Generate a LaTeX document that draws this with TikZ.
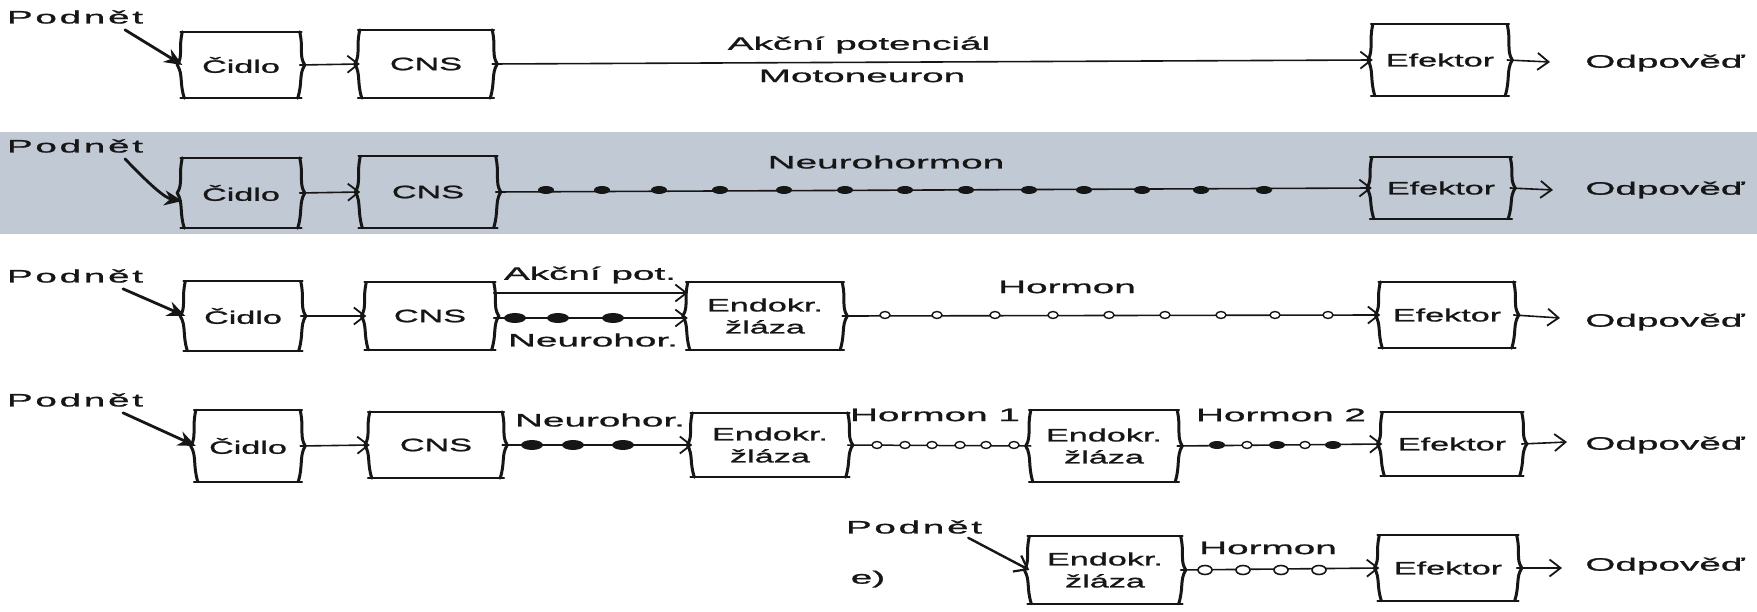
\documentclass[tikz,border=0pt]{standalone}
\usepackage{fontspec}
\setmainfont{Liberation Sans}
\newfontfamily\lblfont[FakeStretch=2.15,FakeBold=1.2]{Liberation Sans}
\newfontfamily\stimfont[FakeStretch=2.15,FakeBold=1.2,LetterSpace=15]{Liberation Sans}
\newfontfamily\boxfont[FakeStretch=1.9,FakeBold=1.2]{Liberation Sans}
\usetikzlibrary{calc,arrows.meta}
\definecolor{band}{RGB}{193,201,213}
\definecolor{ink}{RGB}{22,22,22}
\newcommand{\skbox}[1]{%
  \draw[edgeline] ($(#1.north west)+(-2,0)$) -- ($(#1.north east)+(2,0)$);
  \draw[edgeline] ($(#1.south west)+(-2,0)$) -- ($(#1.south east)+(2,0)$);
  \draw[sideline] (#1.north west) .. controls ($(#1.north west)+(-4,18)$) and ($(#1.west)+(1,-10)$) .. ($(#1.west)+(-5,0)$) .. controls ($(#1.west)+(1,10)$) and ($(#1.south west)+(-3,-16)$) .. ($(#1.south west)+(2,0)$);
  \draw[sideline] (#1.north east) .. controls ($(#1.north east)+(4,18)$) and ($(#1.east)+(-1,-10)$) .. ($(#1.east)+(5,0)$) .. controls ($(#1.east)+(-1,10)$) and ($(#1.south east)+(3,-16)$) .. ($(#1.south east)+(-2,0)$);
}
\newcommand{\blob}[2]{\fill[ink] (#1,#2) ellipse [x radius=8, y radius=4];}
\newcommand{\bigblob}[2]{\fill[ink] (#1,#2) ellipse [x radius=11, y radius=5];}
\newcommand{\ring}[2]{\draw[ink, line width=1.4pt, fill=white] (#1,#2) ellipse [x radius=5, y radius=3.5];}
\newcommand{\bigring}[2]{\draw[ink, line width=1.6pt, fill=white] (#1,#2) ellipse [x radius=7, y radius=4.5];}
\tikzset{
  lbl/.style={font=\lblfont\fontsize{18}{21}\selectfont, inner sep=0, text=ink},
  stimlbl/.style={font=\stimfont\fontsize{18}{21}\selectfont, inner sep=0, text=ink},
  bx/.style={font=\boxfont\fontsize{18}{22}\selectfont, inner sep=0, align=center, text=ink},
  edgeline/.style={draw=ink, line width=1.8pt},
  sideline/.style={draw=ink, line width=3pt},
  conn/.style={draw=ink, line width=1.6pt, -{Straight Barb[length=11pt,width=17pt,line width=1.8pt]}},
  plain/.style={draw=ink, line width=1.5pt},
  stim/.style={draw=ink, line width=2.8pt, -{Stealth[length=18pt,width=15pt]}},
  stimopen/.style={draw=ink, line width=2.4pt, -{Straight Barb[length=12pt,width=18pt,line width=2.2pt]}}
}
\begin{document}
\begin{tikzpicture}[x=1pt,y=-1pt,line cap=round]
\useasboundingbox (0,0) rectangle (1757,612);
\fill[band] (0,132) rectangle (1757,234);

% ---------- row 1
\node[stimlbl] (p1) at (75,17) {Podnět};
\node[bx, minimum width=117, minimum height=66] (c1) at (241,65) {Čidlo};
\node[bx, minimum width=132, minimum height=68] (n1) at (426,64) {CNS};
\node[bx, minimum width=134, minimum height=71] (e1) at (1440,60) {Efektor};
\node[lbl] (r1) at (1665,63) {Odpověď};
\node[lbl] (a1) at (859,45) {Akční potenciál};
\node[lbl] (m1) at (862,76) {Motoneuron};
\coordinate (o1) at (1550,62);
\skbox{c1}\skbox{n1}\skbox{e1}
\draw[stim] ($(p1.south)+(50,6)$) -- (c1.west);
\draw[conn] (c1.east) -- (n1.west);
\draw[conn] (n1.east) -- (e1.west);
\draw[conn] (e1.east) -- (o1);

% ---------- row 2
\node[stimlbl] (p2) at (75,146) {Podnět};
\node[bx, minimum width=117, minimum height=70] (c2) at (241,193) {Čidlo};
\node[bx, minimum width=135, minimum height=71] (n2) at (428,192) {CNS};
\node[bx, minimum width=138, minimum height=61] (e2) at (1441,188) {Efektor};
\node[lbl] (r2) at (1665,190) {Odpověď};
\node[lbl] (nh2) at (886,162) {Neurohormon};
\coordinate (o2) at (1553,190);
\skbox{c2}\skbox{n2}\skbox{e2}
\draw[stim] ($(p2.south)+(50,6)$) .. controls (150,185) and (165,198) .. ($(c2.west)+(0,8)$);
\draw[conn] (c2.east) -- (n2.west);
\draw[conn] (n2.east) -- (e2.west);
\draw[conn] (e2.east) -- (o2);
\foreach \x in {546,602,659,720,784,845,905,966,1029,1084,1142,1201,1264} {\blob{\x}{190}}

% ---------- row 3
\node[stimlbl] (p3) at (75,276) {Podnět};
\node[bx, minimum width=115, minimum height=69] (c3) at (243,316) {Čidlo};
\node[bx, minimum width=127, minimum height=67] (n3) at (430,316) {CNS};
\node[bx, minimum width=154, minimum height=67] (g3) at (765,316) {Endokr.\\žláza};
\node[bx, minimum width=133, minimum height=66] (e3) at (1447,315) {Efektor};
\node[lbl] (r3) at (1665,322) {Odpověď};
\node[lbl] (ap3) at (590,275) {Akční pot.};
\node[lbl] (nh3) at (593,340) {Neurohor.};
\node[lbl] (h3) at (1067,287) {Hormon};
\coordinate (o3) at (1560,318);
\skbox{c3}\skbox{n3}\skbox{g3}\skbox{e3}
\draw[stim] ($(p3.south)+(48,6)$) -- (c3.west);
\draw[conn] (c3.east) -- (n3.west);
\draw[conn] (n3.east |- 0,293) -- (g3.west |- 0,293);
\draw[conn] (n3.east |- 0,318) -- (g3.west |- 0,318);
\bigblob{515}{318}\bigblob{558}{318}\bigblob{613}{318}
\draw[conn] (g3.east) -- (e3.west);
\foreach \x in {885,937,995,1053,1109,1165,1221,1275,1328} {\ring{\x}{315}}
\draw[conn] (e3.east) -- (o3);

% ---------- row 4
\node[stimlbl] (p4) at (75,400) {Podnět};
\node[bx, minimum width=104, minimum height=71] (c4) at (248,446) {Čidlo};
\node[bx, minimum width=132, minimum height=66] (n4) at (436,445) {CNS};
\node[bx, minimum width=155, minimum height=64] (g4a) at (770,445) {Endokr.\\žláza};
\node[bx, minimum width=146, minimum height=71] (g4b) at (1104,446) {Endokr.\\žláza};
\node[bx, minimum width=139, minimum height=63] (e4) at (1452,444) {Efektor};
\node[lbl] (r4) at (1665,445) {Odpověď};
\node[lbl] (nh4) at (600,420) {Neurohor.};
\node[lbl] (h41) at (935,415) {Hormon 1};
\node[lbl] (h42) at (1281,415) {Hormon 2};
\coordinate (o4) at (1567,442);
\skbox{c4}\skbox{n4}\skbox{g4a}\skbox{g4b}\skbox{e4}
\draw[stim] ($(p4.south)+(48,6)$) -- (c4.west);
\draw[conn] (c4.east) -- (n4.west);
\draw[conn] (n4.east) -- (g4a.west);
\bigblob{532}{445}\bigblob{573}{445}\bigblob{623}{445}
\draw[plain] (g4a.east) -- (g4b.west);
\foreach \x in {877,905,932,960,986,1014} {\ring{\x}{445}}
\draw[conn] (g4b.east) -- (e4.west);
\foreach \x in {1217,1277,1333} {\blob{\x}{445}}
\foreach \x in {1247,1305} {\ring{\x}{445}}
\draw[conn] (e4.east) -- (o4);

% ---------- row 5
\node[stimlbl] (p5) at (914,527) {Podnět};
\node[lbl] (lab5) at (868,579) {e)};
\node[bx, minimum width=151, minimum height=67] (g5) at (1105,570) {Endokr.\\žláza};
\node[bx, minimum width=137, minimum height=65] (e5) at (1448,568) {Efektor};
\node[lbl] (r5) at (1665,566) {Odpověď};
\node[lbl] (h5) at (1268,548) {Hormon};
\coordinate (o5) at (1562,568);
\skbox{g5}\skbox{e5}
\draw[stimopen] ($(p5.south east)+(-14,4)$) -- (g5.west);
\draw[conn] (g5.east) -- (e5.west);
\foreach \x in {1205,1243,1281,1319} {\bigring{\x}{570}}
\draw[conn] (e5.east) -- (o5);
\end{tikzpicture}
\end{document}
